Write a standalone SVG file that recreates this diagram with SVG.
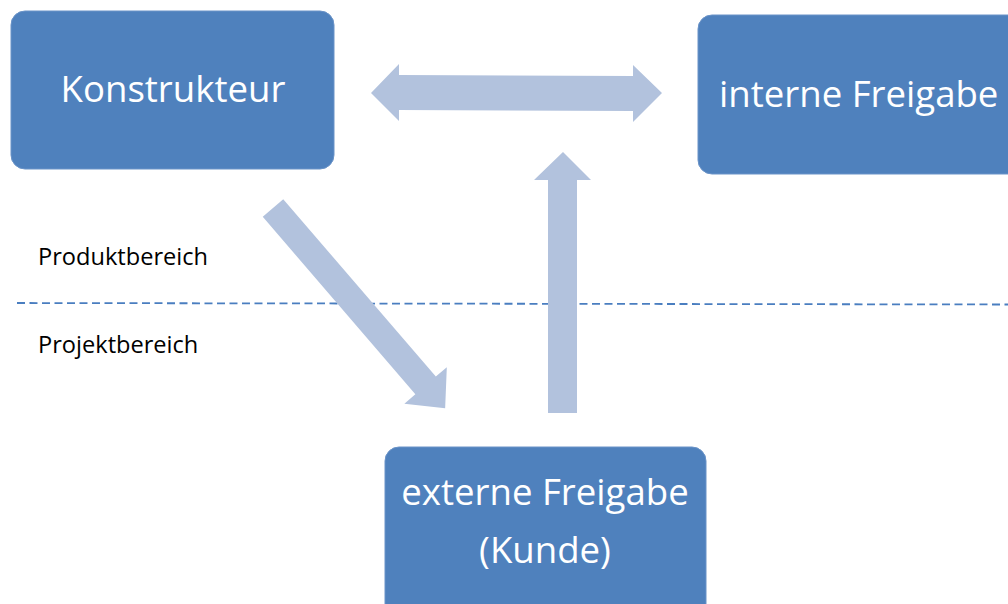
<svg xmlns="http://www.w3.org/2000/svg" width="1008" height="604" viewBox="0 0 1008 604">
  <style>
    .box { fill: #4F81BD; stroke: #6A93C8; stroke-width: 1; }
    .node-text { font-family: "Open Sans", "Noto Sans", sans-serif; font-size: 36.6px; fill: #FFFFFF; }
    .label { font-family: "Open Sans", "Noto Sans", sans-serif; font-size: 23.6px; fill: #000000; }
    .arrow { fill: #B2C2DD; }
    .divider { stroke: #4A7EC0; stroke-width: 1.8; stroke-dasharray: 8 4.5; fill: none; }
  </style>
  <rect width="1008" height="604" fill="#FFFFFF"/>

  <!-- area divider and labels -->
  <line class="divider" x1="17" y1="303" x2="1008" y2="304.5"/>
  <text class="label" x="38" y="265">Produktbereich</text>
  <text class="label" x="38" y="353">Projektbereich</text>

  <g id="connectors">
    <!-- double arrow between Konstrukteur and interne Freigabe -->
    <polygon class="arrow" points="371,93 399,64 399,75 633,76 633,65 662,93 633,122 633,111 399,110 399,121"/>
    <!-- from externe Freigabe up to interne Freigabe -->
    <polygon class="arrow" points="548,413 548,180 534,180 563,152 591,180 577,180 577,413"/>
    <!-- from Konstrukteur down to externe Freigabe -->
    <polygon class="arrow" transform="translate(273,208) rotate(49.3)" points="0,-13.5 234,-13.5 234,-28 264,0 234,28 234,13.5 0,13.5"/>
  </g>

  <g id="konstrukteur">
    <rect class="box" x="11" y="11" width="323" height="158" rx="14" ry="14"/>
    <text class="node-text" x="173" y="102" text-anchor="middle">Konstrukteur</text>
  </g>

  <g id="interne-freigabe">
    <rect class="box" x="698" y="15" width="330" height="159" rx="14" ry="14"/>
    <text class="node-text" x="719" y="107">interne Freigabe</text>
  </g>

  <g id="externe-freigabe">
    <rect class="box" x="385" y="447" width="321" height="175" rx="14" ry="14"/>
    <text class="node-text" x="545" y="505" text-anchor="middle">externe Freigabe</text>
    <text class="node-text" x="545" y="563" text-anchor="middle">(Kunde)</text>
  </g>
</svg>
